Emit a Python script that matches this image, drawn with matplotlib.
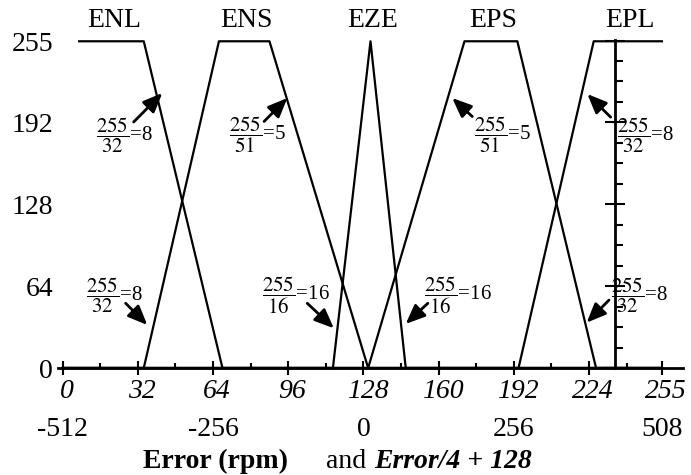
import matplotlib
matplotlib.use('Agg')
import matplotlib.pyplot as plt
import matplotlib.transforms as mtrans
from matplotlib.ticker import FixedLocator

plt.rcParams['font.family'] = 'Liberation Serif'
plt.rcParams['mathtext.fontset'] = 'stix'

# axis values
x_ticks = [0, 32, 64, 96, 128, 160, 192, 224, 255]
y_ticks = [0, 64, 128, 192, 255]
err_ticks = [-512, -256, 0, 256, 508]

# membership functions, breakpoints
names = ['ENL', 'ENS', 'EZE', 'EPS', 'EPL']
enl_x = [7, 34.5, 68, 255]
enl_y = [255, 255, 0, 0]
ens_x = [0, 34.5, 66.5, 88, 130, 255]
ens_y = [0, 0, 255, 255, 0, 0]
eze_x = [0, 115, 131, 146, 255]
eze_y = [0, 0, 255, 0, 0]
eps_x = [0, 130, 171, 193.5, 227, 255]
eps_y = [0, 0, 255, 255, 0, 0]
epl_x = [0, 194, 226, 255]
epl_y = [0, 0, 255, 255]

# slope notes: text, text anchor, arrow tail, arrow head
note_text = [r'$\dfrac{255}{32}$=8', r'$\dfrac{255}{51}$=5', r'$\dfrac{255}{51}$=5', r'$\dfrac{255}{32}$=8',
             r'$\dfrac{255}{32}$=8', r'$\dfrac{255}{16}$=16', r'$\dfrac{255}{16}$=16', r'$\dfrac{255}{32}$=8']
note_pos = [(14, 182), (70.6, 182), (175, 182), (236, 182),
            (9.8, 57), (85, 57), (153.7, 57), (233.5, 57)]
arrow_tail = [(30.2, 192), (85.7, 192.4), (174.3, 196.3), (233.2, 195.8),
              (26.8, 50.5), (104.1, 50.5), (155.4, 50.5), (232.5, 53)]
arrow_head = [(42.4, 214.6), (95.6, 210.7), (165.8, 210.7), (223.3, 213.8),
              (36, 33.6), (115.4, 31), (146, 34.4), (223, 35.4)]

fig = plt.figure(figsize=(6.91, 4.75), dpi=100)
ax = fig.add_axes([58 / 691, 1 - 368 / 475, 625 / 691, 328 / 475])
ax.set_xlim(-2, 264)
ax.set_ylim(0, 256)

curves = [(enl_x, enl_y), (ens_x, ens_y), (eze_x, eze_y), (eps_x, eps_y), (epl_x, epl_y)]
for name, (xs, ys) in zip(names, curves):
    ax.plot(xs, ys, color='black', lw=1.6, clip_on=False)
    top = [x for x, y in zip(xs, ys) if y == 255]
    ax.text((min(top) + max(top)) / 2 + 1, 266, name, ha='center', va='baseline', fontsize=20)

for txt, pos, tail, head in zip(note_text, note_pos, arrow_tail, arrow_head):
    ax.text(pos[0], pos[1], txt, fontsize=15, ha='left', va='center')
    ax.annotate('', xy=head, xytext=tail,
                arrowprops=dict(arrowstyle='-|>,head_length=0.9,head_width=0.38', color='black',
                                linewidth=2, shrinkA=0, shrinkB=0, mutation_scale=13))

# spines: bottom axis at y=0, vertical axis drawn at x=235
ax.spines['top'].set_visible(False)
ax.spines['left'].set_visible(False)
ax.spines['right'].set_position(('data', 235))
ax.spines['right'].set_linewidth(2)
ax.spines['bottom'].set_linewidth(2)

ax.set_xticks(x_ticks)
ax.xaxis.set_minor_locator(FixedLocator([v for v in range(16, 256, 16) if v % 32]))
ax.tick_params(axis='x', which='major', direction='inout', length=10, width=1.5, pad=3, labelsize=20)
ax.tick_params(axis='x', which='minor', direction='in', length=3.5, width=1.5)
offset = mtrans.ScaledTranslation(4 / 100, 0, fig.dpi_scale_trans)
for t in ax.get_xticklabels():
    t.set_style('italic')
    t.set_transform(t.get_transform() + offset)

ax.set_yticks(y_ticks)
ax.yaxis.set_minor_locator(FixedLocator([v for v in range(16, 256, 16) if v % 64]))
ax.tick_params(axis='y', which='both', left=False, right=True, labelleft=True, labelright=False)
ax.tick_params(axis='y', which='major', direction='inout', length=14, width=1.5, labelsize=20, pad=-3.5)
ax.tick_params(axis='y', which='minor', direction='out', length=6, width=1.5)

# second scale: Error in rpm
sec = ax.secondary_xaxis('bottom', functions=(lambda x: (x - 128) * 4, lambda e: e / 4 + 128))
sec.set_xticks(err_ticks, labels=[str(v) for v in err_ticks])
sec.tick_params(length=0, pad=35, labelsize=20)
sec.spines['bottom'].set_visible(False)

base = 1 - 468 / 475
fig.text(143 / 691, base, 'Error (rpm)', fontsize=20, fontweight='bold', va='baseline')
fig.text(326 / 691, base, 'and', fontsize=20, va='baseline')
fig.text(374 / 691, base, 'Error/4 + 128', fontsize=20, fontweight='bold', style='italic', va='baseline')

fig.savefig('out.png', dpi=100)
